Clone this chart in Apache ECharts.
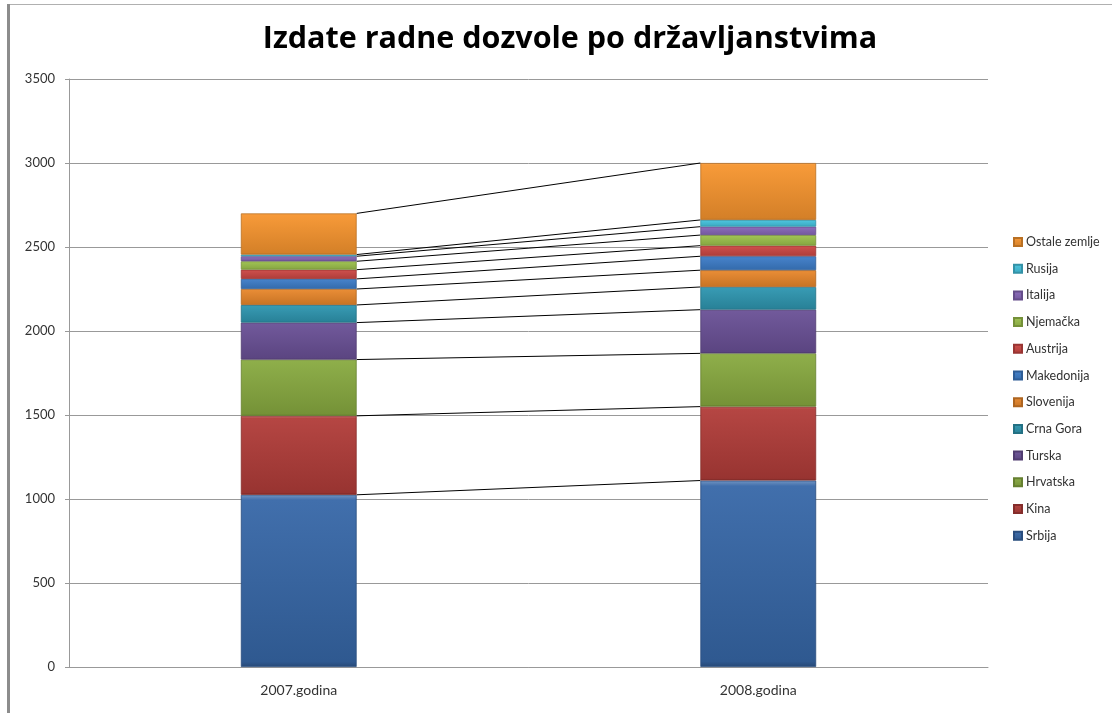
<!DOCTYPE html>
<html>
<head>
<meta charset="utf-8">
<script src="https://cdn.jsdelivr.net/npm/echarts@6/dist/echarts.min.js"></script>
<style>
  html, body { margin: 0; padding: 0; background: #fff; }
  #chart { width: 1112px; height: 713px; }
</style>
</head>
<body>
<div id="chart"></div>
<script>
// Work permits issued, by citizenship
const categories = ['2007.godina', '2008.godina'];
const countries = ['Srbija', 'Kina', 'Hrvatska', 'Turska', 'Crna Gora', 'Slovenija',
                   'Makedonija', 'Austrija', 'Njemačka', 'Italija', 'Rusija', 'Ostale zemlje'];
const permits2007 = [1025, 470, 335, 220, 105, 95, 60, 55, 50, 30, 10, 245];
const permits2008 = [1110, 440, 317, 260, 135, 100, 83, 63, 63, 50, 40, 339];
const yTicks = [0, 500, 1000, 1500, 2000, 2500, 3000, 3500];

const palette = ['#3767a8', '#b13c39', '#88aa40', '#6a5096', '#2e96b0', '#e8872b',
                 '#3d7cc8', '#cc4744', '#9cc14c', '#8766b8', '#45c3de', '#f7952f'];

function shade(hex, f) {
  const n = parseInt(hex.slice(1), 16);
  let r = n >> 16, g = (n >> 8) & 255, b = n & 255;
  const mix = v => f >= 0 ? Math.round(v + (255 - v) * f) : Math.round(v * (1 + f));
  return 'rgb(' + mix(r) + ',' + mix(g) + ',' + mix(b) + ')';
}

function bevel(hex) {
  return new echarts.graphic.LinearGradient(0, 0, 0, 1, [
    { offset: 0, color: shade(hex, 0.3) },
    { offset: 0.03, color: shade(hex, 0.05) },
    { offset: 0.97, color: shade(hex, -0.14) },
    { offset: 1, color: shade(hex, -0.3) }
  ]);
}

// running totals for the connector lines between the two columns
const tops = [];
let c07 = 0, c08 = 0;
for (let i = 0; i < countries.length; i++) {
  c07 += permits2007[i];
  c08 += permits2008[i];
  tops.push([0, c07, c08]);
}

const barSeries = countries.map((name, i) => ({
  name: name,
  type: 'bar',
  stack: 'total',
  barWidth: '25.2%',
  data: [permits2007[i], permits2008[i]],
  itemStyle: {
    color: bevel(palette[i]),
    borderColor: shade(palette[i], -0.25),
    borderWidth: 0.8
  },
  emphasis: { disabled: true }
}));

const connectors = {
  type: 'custom',
  name: 'connectors',
  silent: true,
  z: 3,
  encode: { x: 0, y: 1 },
  data: tops,
  renderItem: function (params, api) {
    const band = api.size([1, 0])[0];
    const half = band * 0.252 / 2;
    const a = api.coord([0, api.value(1)]);
    const b = api.coord([1, api.value(2)]);
    return {
      type: 'line',
      shape: { x1: a[0] + half, y1: a[1], x2: b[0] - half, y2: b[1] },
      style: { stroke: '#000', lineWidth: 1 }
    };
  }
};

const chart = echarts.init(document.getElementById('chart'), null, { renderer: 'canvas' });
chart.setOption({
  animation: false,
  backgroundColor: '#fff',
  title: {
    text: 'Izdate radne dozvole po državljanstvima',
    left: 570,
    top: 24,
    padding: 0,
    textAlign: 'center',
    textStyle: { fontFamily: 'Open Sans', fontWeight: 'bold', fontSize: 30.5, color: '#000' }
  },
  legend: {
    orient: 'vertical',
    left: 1013,
    top: 235,
    padding: 0,
    data: countries.slice().reverse(),
    icon: 'rect',
    itemWidth: 8,
    itemHeight: 8,
    itemGap: 12.7,
    textStyle: { fontFamily: 'Lato', fontSize: 12.5, color: '#333', lineHeight: 14, padding: [0, 0, 0, -1] },
    selectedMode: false
  },
  grid: { left: 69, right: 124, top: 79, bottom: 46, containLabel: false },
  xAxis: {
    type: 'category',
    data: categories,
    axisLine: { lineStyle: { color: '#999', width: 1 } },
    axisTick: { show: false },
    axisLabel: { fontFamily: 'Lato', fontSize: 14, color: '#333', margin: 16 }
  },
  yAxis: {
    type: 'value',
    min: yTicks[0],
    max: yTicks[yTicks.length - 1],
    interval: yTicks[1] - yTicks[0],
    axisLine: { show: true, lineStyle: { color: '#999' } },
    axisTick: { show: true, length: 4, inside: false, lineStyle: { color: '#999' } },
    axisLabel: { fontFamily: 'Lato', fontSize: 13, color: '#333', margin: 14, formatter: v => String(v) },
    splitLine: { lineStyle: { color: '#999', width: 1 } }
  },
  graphic: [
    { type: 'rect', shape: { x: 7, y: 4, width: 3, height: 709 }, style: { fill: '#8c8c8c' }, silent: true },
    { type: 'rect', shape: { x: 10, y: 4, width: 1102, height: 1 }, style: { fill: '#b0b0b0' }, silent: true }
  ],
  series: barSeries.concat([connectors])
});
</script>
</body>
</html>
